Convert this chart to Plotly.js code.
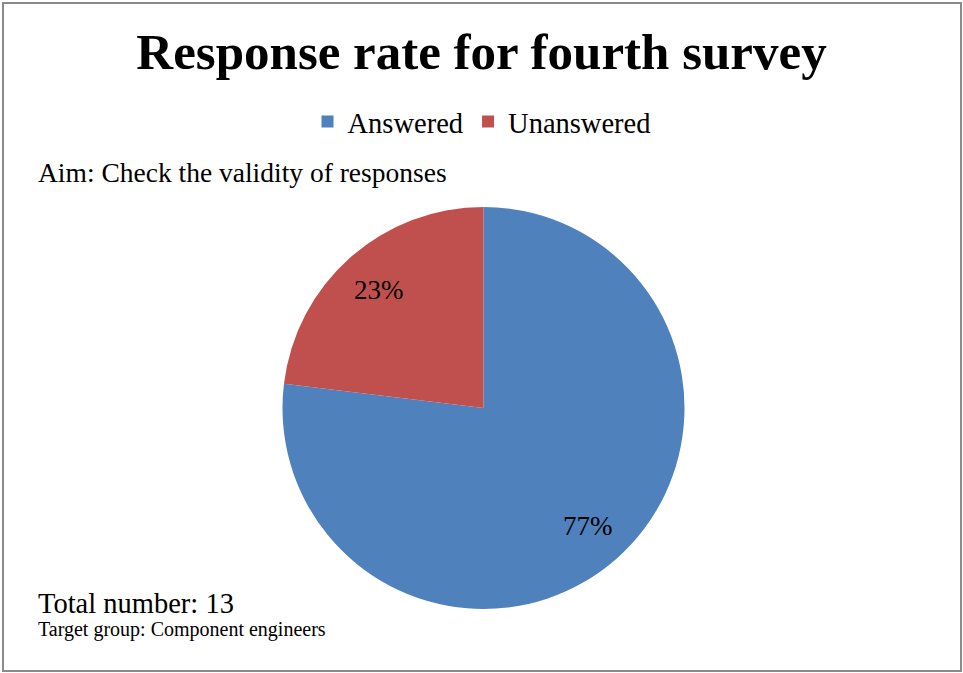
<!DOCTYPE html>
<html>
<head>
<meta charset="utf-8">
<script src="https://cdn.plot.ly/plotly-3.0.1.min.js"></script>
<style>html,body{margin:0;padding:0;background:#fff;}#chart{width:963px;height:673px;}</style>
</head>
<body>
<div id="chart"></div>
<script>
var categories = ["Answered", "Unanswered"];
var counts = [10, 3];
var colors = ["#4F81BD", "#C0504D"];
var titleText = "Response rate for fourth survey";
var aimText = "Aim: Check the validity of responses";
var totalText = "Total number: 13";
var targetText = "Target group: Component engineers";

var FONT = "Liberation Serif, Times New Roman, serif";
var W = 963, H = 673;
var dom = {x: [282/W, 685/W], y: [1 - 609/H, 1 - 207/H]};

var trace = {
  type: "pie",
  labels: categories,
  values: counts,
  sort: false,
  direction: "clockwise",
  rotation: 0,
  marker: {colors: colors, line: {color: "#ffffff", width: 0}},
  textinfo: "none",
  domain: dom,
  hoverinfo: "label+value+percent"
};

// percent labels placed along each slice bisector (Excel-style best fit)
var total = counts.reduce(function(a, b) { return a + b; }, 0);
var cxp = (dom.x[0] + dom.x[1]) / 2 * W;
var cyp = (1 - (dom.y[0] + dom.y[1]) / 2) * H;
var rad = Math.min((dom.x[1] - dom.x[0]) * W, (dom.y[1] - dom.y[0]) * H) / 2;
var labelAnns = [];
var cum = 0;
counts.forEach(function(v) {
  var mid = (cum + v / 2) / total * 2 * Math.PI;
  cum += v;
  var px = cxp + Math.sin(mid) * rad * 0.785;
  var py = cyp - Math.cos(mid) * rad * 0.785;
  labelAnns.push({
    text: Math.round(v / total * 100) + "%",
    xref: "paper", yref: "paper", x: px / W, y: 1 - py / H,
    xanchor: "center", yanchor: "middle", showarrow: false,
    font: {family: FONT, size: 27, color: "#000000"}
  });
});

var layout = {
  width: W,
  height: H,
  margin: {l: 0, r: 0, t: 0, b: 0, autoexpand: false},
  paper_bgcolor: "#ffffff",
  font: {family: FONT, color: "#000000"},
  title: {
    text: "<b>" + titleText + "</b>",
    font: {family: FONT, size: 51, color: "#000000"},
    x: 0.5, xanchor: "center",
    y: 1 - 51/H, yanchor: "middle",
    xref: "paper", yref: "paper"
  },
  showlegend: true,
  legend: {
    orientation: "h",
    x: 0.5, xanchor: "center",
    y: 1 - 122/H, yanchor: "middle",
    font: {family: FONT, size: 28.5, color: "#000000"},
    itemwidth: 30,
    traceorder: "normal"
  },
  annotations: [
    {text: aimText, xref: "paper", yref: "paper", x: 36/W, y: 1 - 173/H,
     xanchor: "left", yanchor: "middle", showarrow: false,
     font: {family: FONT, size: 27.5, color: "#000000"}},
    {text: totalText, xref: "paper", yref: "paper", x: 36/W, y: 1 - 603/H,
     xanchor: "left", yanchor: "middle", showarrow: false,
     font: {family: FONT, size: 28.5, color: "#000000"}},
    {text: targetText, xref: "paper", yref: "paper", x: 36/W, y: 1 - 629/H,
     xanchor: "left", yanchor: "middle", showarrow: false,
     font: {family: FONT, size: 20, color: "#000000"}}
  ].concat(labelAnns),
  shapes: [
    {type: "rect", xref: "paper", yref: "paper",
     x0: 3/W, x1: 961/W, y0: 1 - 671/H, y1: 1 - 3/H,
     line: {color: "#8a8a8a", width: 2}, fillcolor: "rgba(0,0,0,0)"}
  ]
};

Plotly.newPlot("chart", [trace], layout, {displayModeBar: false, staticPlot: true});
</script>
</body>
</html>
